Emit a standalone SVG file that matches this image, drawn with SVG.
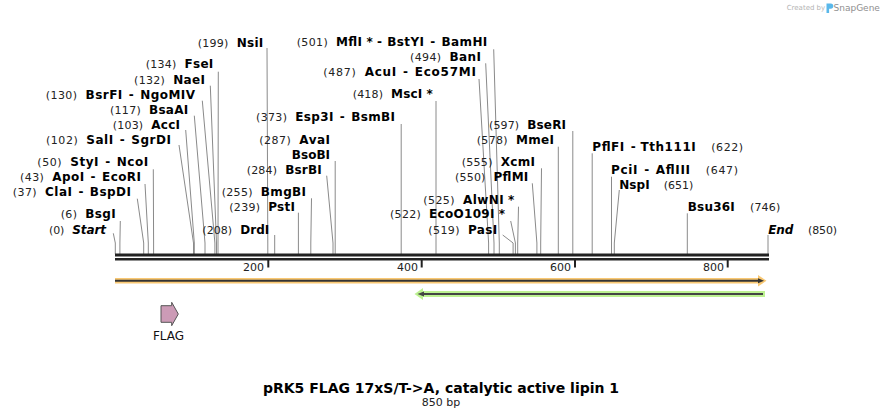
<svg xmlns="http://www.w3.org/2000/svg" width="884" height="417" viewBox="0 0 884 417">
<style>
text{font-family:"DejaVu Sans",Verdana,sans-serif;font-size:11px;fill:#111}
.n{font-weight:normal;fill:#222;font-size:11px}
.b{font-weight:bold;fill:#000;font-size:12px}
.i{font-style:italic}
.e{text-anchor:end}
.cut{fill:none;stroke:#8a8a8a;stroke-width:1}
.axis{stroke:#222;fill:none}
.tick{font-size:11px;fill:#222;text-anchor:end}
</style>
<rect width="884" height="417" fill="#fff"/>
<g id="connectors">
<path class="cut" d="M113.3 233.3L115.3 243V254"/>
<path class="cut" d="M120.3 221L119.9 243V254"/>
<path class="cut" d="M137.3 198.7L143.7 243V254"/>
<path class="cut" d="M145 184L148.3 243V254"/>
<path class="cut" d="M153.3 169.3L153.6 243V254"/>
<path class="cut" d="M179 145L193.5 243V254"/>
<path class="cut" d="M185.7 130L194.3 243V254"/>
<path class="cut" d="M194.3 115.7L205 243V254"/>
<path class="cut" d="M202.3 100.7L214.9 243V254"/>
<path class="cut" d="M210.3 85.7L216.5 243V254"/>
<path class="cut" d="M218.3 71.7L218 243V254"/>
<path class="cut" d="M267 48L267.8 243V254"/>
<path class="cut" d="M274.7 235V254"/>
<path class="cut" d="M298.4 212.7V254"/>
<path class="cut" d="M311.5 198.3L310.8 243V254"/>
<path class="cut" d="M326.7 175.7L333 243V254"/>
<path class="cut" d="M335.2 161V254"/>
<path class="cut" d="M401.2 124V254"/>
<path class="cut" d="M436 101V254"/>
<path class="cut" d="M479 79L488.6 243V254"/>
<path class="cut" d="M485.7 63.3L494 243V254"/>
<path class="cut" d="M493.7 49.3L499.3 243V254"/>
<path class="cut" d="M502.7 235L513.1 243V254"/>
<path class="cut" d="M510.7 221L515.4 243V254"/>
<path class="cut" d="M518.5 206.7L517.7 243V254"/>
<path class="cut" d="M532.3 183.3L536.9 243V254"/>
<path class="cut" d="M541.5 168.3L540.7 243V254"/>
<path class="cut" d="M558.3 146.7V254"/>
<path class="cut" d="M572.8 131V254"/>
<path class="cut" d="M592.2 153.3V254"/>
<path class="cut" d="M611.5 176.7V254"/>
<path class="cut" d="M619.3 190L614.3 243V254"/>
<path class="cut" d="M687.3 213.3V254"/>
<path class="cut" d="M768 235V254"/>
</g>
<g id="ruler">
<line class="axis" x1="115" y1="255" x2="769" y2="255" stroke-width="3"/>
<line class="axis" x1="115" y1="259.3" x2="769" y2="259.3" stroke-width="2.6"/>
<line class="axis" x1="268.3" y1="260" x2="268.3" y2="267.5" stroke-width="2"/>
<line class="axis" x1="421.7" y1="260" x2="421.7" y2="267.5" stroke-width="2"/>
<line class="axis" x1="575" y1="260" x2="575" y2="267.5" stroke-width="2"/>
<line class="axis" x1="727.7" y1="260" x2="727.7" y2="267.5" stroke-width="2"/>
<text class="tick" x="264" y="270.7">200</text>
<text class="tick" x="418" y="270.7">400</text>
<text class="tick" x="571" y="270.7">600</text>
<text class="tick" x="724" y="270.7">800</text>
</g>
<g id="feature-orange">
<polygon points="115,278 758,278 758,275 766.5,280.8 758,286.6 758,283.6 115,283.6" fill="#f9c873"/>
<line x1="115" y1="280.8" x2="759" y2="280.8" stroke="#333" stroke-width="2"/>
<polygon points="758,278.3 764,280.8 758,283.3" fill="#333"/>
</g>
<g id="feature-green">
<polygon points="765,291 423,291 423,288 414.5,294 423,300 423,297 765,297" fill="#bdf291"/>
<line x1="421" y1="294" x2="763" y2="294" stroke="#444" stroke-width="2"/>
<polygon points="424,291.5 417.5,294 424,296.5" fill="#444"/>
</g>
<g id="FLAG">
<polygon points="161,305.7 171.7,305.7 171.7,302.3 178.3,314 171.7,325.7 171.7,322.3 161,322.3" fill="#cc9bb6" stroke="#555" stroke-width="1"/>
<text x="168.5" y="340" text-anchor="middle" style="font-size:12px">FLAG</text>
</g>
<g id="NsiI"><text class="e" x="263.3" y="46.7" textLength="65.6"><tspan class="n">(199)</tspan><tspan class="b" dx="8">NsiI</tspan></text></g>
<g id="FseI"><text class="e" x="213.3" y="68.3" textLength="67.6"><tspan class="n">(134)</tspan><tspan class="b" dx="8">FseI</tspan></text></g>
<g id="NaeI"><text class="e" x="205" y="84" textLength="71"><tspan class="n">(132)</tspan><tspan class="b" dx="8">NaeI</tspan></text></g>
<g id="BsrFI"><text class="e" x="195" y="99" textLength="149.3"><tspan class="n">(130)</tspan><tspan class="b" dx="8">BsrFI</tspan><tspan class="b" dx="6">-</tspan><tspan class="b" dx="6">NgoMIV</tspan></text></g>
<g id="BsaAI"><text class="e" x="188.3" y="114" textLength="78.3"><tspan class="n">(117)</tspan><tspan class="b" dx="8">BsaAI</tspan></text></g>
<g id="AccI"><text class="e" x="180" y="129" textLength="67.3"><tspan class="n">(103)</tspan><tspan class="b" dx="8">AccI</tspan></text></g>
<g id="SalI"><text class="e" x="171" y="144" textLength="125"><tspan class="n">(102)</tspan><tspan class="b" dx="8">SalI</tspan><tspan class="b" dx="6">-</tspan><tspan class="b" dx="6">SgrDI</tspan></text></g>
<g id="StyI"><text class="e" x="148.3" y="166.3" textLength="111"><tspan class="n">(50)</tspan><tspan class="b" dx="8">StyI</tspan><tspan class="b" dx="6">-</tspan><tspan class="b" dx="6">NcoI</tspan></text></g>
<g id="ApoI"><text class="e" x="141" y="180.7" textLength="121"><tspan class="n">(43)</tspan><tspan class="b" dx="8">ApoI</tspan><tspan class="b" dx="6">-</tspan><tspan class="b" dx="6">EcoRI</tspan></text></g>
<g id="ClaI"><text class="e" x="131" y="196.3" textLength="118.3"><tspan class="n">(37)</tspan><tspan class="b" dx="8">ClaI</tspan><tspan class="b" dx="6">-</tspan><tspan class="b" dx="6">BspDI</tspan></text></g>
<g id="BsgI"><text class="e" x="115.7" y="218.3" textLength="55"><tspan class="n">(6)</tspan><tspan class="b" dx="8">BsgI</tspan></text></g>
<g id="Start"><text class="e" x="106" y="234" textLength="57"><tspan class="n">(0)</tspan><tspan class="b i" dx="8">Start</tspan></text></g>
<g id="DrdI"><text class="e" x="269.3" y="234" textLength="67"><tspan class="n">(208)</tspan><tspan class="b" dx="8">DrdI</tspan></text></g>
<g id="PstI"><text class="e" x="295" y="210.7" textLength="65.7"><tspan class="n">(239)</tspan><tspan class="b" dx="8">PstI</tspan></text></g>
<g id="BmgBI"><text class="e" x="306" y="196.3" textLength="84.3"><tspan class="n">(255)</tspan><tspan class="b" dx="8">BmgBI</tspan></text></g>
<g id="BsrBI"><text class="e" x="321.7" y="174" textLength="75"><tspan class="n">(284)</tspan><tspan class="b" dx="8">BsrBI</tspan></text></g>
<g id="BsoBI"><text class="e" x="330" y="159.3"><tspan class="b">BsoBI</tspan></text></g>
<g id="AvaI"><text class="e" x="330" y="144" textLength="70.7"><tspan class="n">(287)</tspan><tspan class="b" dx="8">AvaI</tspan></text></g>
<g id="Esp3I"><text class="e" x="395" y="121.3" textLength="139"><tspan class="n">(373)</tspan><tspan class="b" dx="8">Esp3I</tspan><tspan class="b" dx="6">-</tspan><tspan class="b" dx="6">BsmBI</tspan></text></g>
<g id="MscI"><text class="e" x="432.7" y="98.3" textLength="80"><tspan class="n">(418)</tspan><tspan class="b" dx="8">MscI</tspan><tspan class="b" dx="4">*</tspan></text></g>
<g id="AcuI"><text class="e" x="476" y="76.3" textLength="152.7"><tspan class="n">(487)</tspan><tspan class="b" dx="8">AcuI</tspan><tspan class="b" dx="6">-</tspan><tspan class="b" dx="6">Eco57MI</tspan></text></g>
<g id="BanI"><text class="e" x="481" y="60.7" textLength="71"><tspan class="n">(494)</tspan><tspan class="b" dx="8">BanI</tspan></text></g>
<g id="MflI"><text class="e" x="487.3" y="46.3" textLength="190.6"><tspan class="n">(501)</tspan><tspan class="b" dx="8">MflI</tspan><tspan class="b" dx="4">*</tspan><tspan class="b" dx="4">-</tspan><tspan class="b" dx="5">BstYI</tspan><tspan class="b" dx="6">-</tspan><tspan class="b" dx="6">BamHI</tspan></text></g>
<g id="PasI"><text class="e" x="497.3" y="234" textLength="69"><tspan class="n">(519)</tspan><tspan class="b" dx="8">PasI</tspan></text></g>
<g id="EcoO109I"><text class="e" x="505" y="218.3" textLength="115"><tspan class="n">(522)</tspan><tspan class="b" dx="8">EcoO109I</tspan><tspan class="b" dx="4">*</tspan></text></g>
<g id="AlwNI"><text class="e" x="514.3" y="204" textLength="91"><tspan class="n">(525)</tspan><tspan class="b" dx="8">AlwNI</tspan><tspan class="b" dx="4">*</tspan></text></g>
<g id="PflMI"><text class="e" x="528.3" y="180.7" textLength="73.3"><tspan class="n">(550)</tspan><tspan class="b" dx="8">PflMI</tspan></text></g>
<g id="XcmI"><text class="e" x="535" y="166" textLength="73.3"><tspan class="n">(555)</tspan><tspan class="b" dx="8">XcmI</tspan></text></g>
<g id="MmeI"><text class="e" x="554" y="144" textLength="77.3"><tspan class="n">(578)</tspan><tspan class="b" dx="8">MmeI</tspan></text></g>
<g id="BseRI"><text class="e" x="566" y="129" textLength="77"><tspan class="n">(597)</tspan><tspan class="b" dx="8">BseRI</tspan></text></g>
<g id="PflFI"><text x="592.3" y="150.7" textLength="150.7"><tspan class="b">PflFI</tspan><tspan class="b" dx="6">-</tspan><tspan class="b" dx="6">Tth111I</tspan><tspan class="n" dx="15">(622)</tspan></text></g>
<g id="PciI"><text x="611" y="174" textLength="127"><tspan class="b">PciI</tspan><tspan class="b" dx="6">-</tspan><tspan class="b" dx="6">AflIII</tspan><tspan class="n" dx="15">(647)</tspan></text></g>
<g id="NspI"><text x="619.3" y="189" textLength="74"><tspan class="b">NspI</tspan><tspan class="n" dx="14">(651)</tspan></text></g>
<g id="Bsu36I"><text x="687.7" y="211.3" textLength="92.6"><tspan class="b">Bsu36I</tspan><tspan class="n" dx="15">(746)</tspan></text></g>
<g id="End"><text x="768.3" y="234" textLength="68.7"><tspan class="b i">End</tspan><tspan class="n" dx="15">(850)</tspan></text></g>
<g id="title">
<text x="441" y="392.7" text-anchor="middle" style="font-size:14px;font-weight:bold;fill:#000">pRK5 FLAG 17xS/T-&gt;A, catalytic active lipin 1</text>
<text x="441" y="406.3" text-anchor="middle" style="font-size:11px;fill:#222">850 bp</text>
</g>
<g id="snapgene-credit">
<text x="786.7" y="10" style="font-size:7px;fill:#b4b4b4">Created by</text>
<path d="M826.5 3.5h4.2a2.6 2.6 0 0 1 0 5.2h-1.6v4.3h-2.6z" fill="#5ab8ea"/>
<text x="833.5" y="10.5" style="font-size:9px;fill:#8f8f8f">SnapGene</text>
</g>
</svg>
